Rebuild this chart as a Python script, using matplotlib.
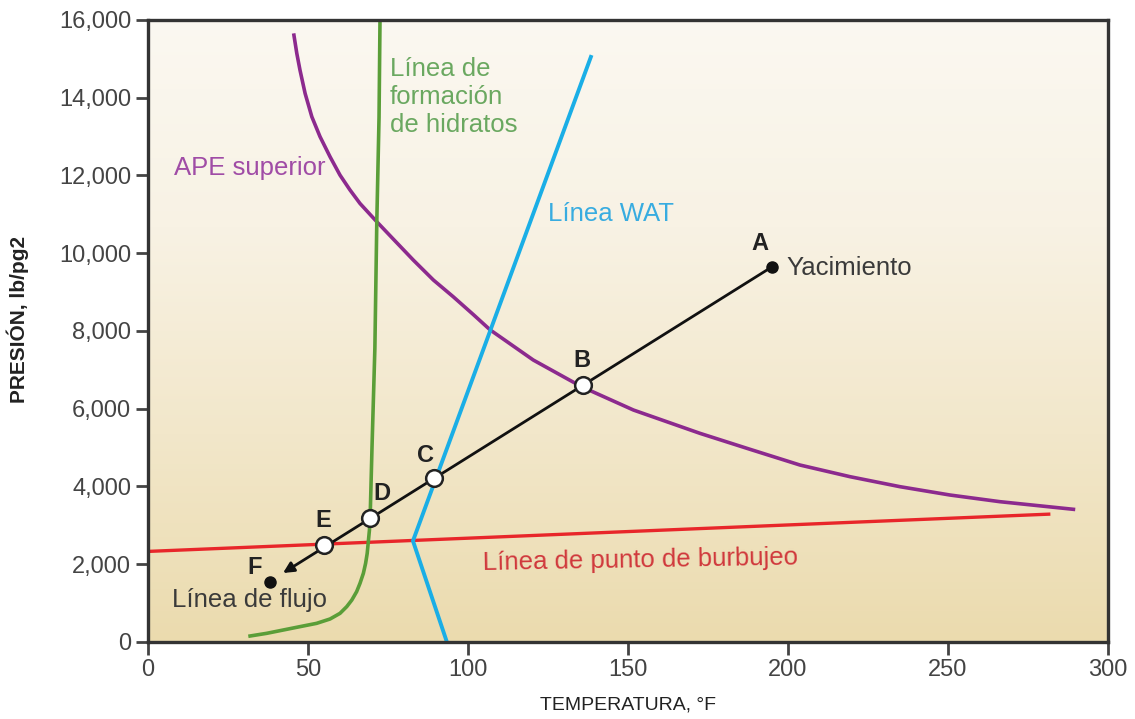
import numpy as np
import matplotlib
matplotlib.use("Agg")
import matplotlib.pyplot as plt
from matplotlib import font_manager as fm
from matplotlib.colors import LinearSegmentedColormap

# ---------------- data ----------------
ape_T = [45.6, 46.5, 47.5, 49.1, 51.2, 53.75, 56.9, 60, 63.1, 66.25, 71.5, 76.7, 82.9, 89.2,
         95.4, 101.7, 106.9, 120.4, 135.5, 151.7, 172.5, 188, 203.75, 219.4, 235, 250.6, 266.25, 289.2]
ape_P = [15610, 15140, 14710, 14110, 13510, 13000, 12480, 12010, 11630, 11280, 10810, 10360, 9825, 9310,
         8880, 8420, 8030, 7253, 6566, 5967, 5367, 4960, 4552, 4252, 3995, 3781, 3609, 3413]

hyd_T = [31.9, 37.1, 42.3, 47.5, 52.7, 56.9, 60, 62.1, 63.7, 65.2, 66.25, 67.3, 68.0, 68.5, 68.8,
         69.2, 69.4, 70.0, 70.9, 71.5, 72.2, 72.5]
hyd_P = [154, 223, 309, 395, 480, 592, 737, 909, 1080, 1295, 1509, 1766, 2023, 2280, 2538,
         2880, 3138, 5000, 7560, 10810, 13500, 16000]

wat_T = [138.4, 82.8, 93.4]
wat_P = [15050, 2600, 0]

bub_T = [0, 282]
bub_P = [2330, 3290]

flow_start = (195, 9650)     # A
flow_tip = (42.2, 1775)      # arrow tip
pts_labels = ["B", "C", "D", "E"]
pts_T = [136, 89.5, 69.5, 55]
pts_P = [6600, 4220, 3190, 2500]
A_pt = (195, 9650)
F_pt = (38, 1543)

xticks = [0, 50, 100, 150, 200, 250, 300]
yticks = [0, 2000, 4000, 6000, 8000, 10000, 12000, 14000, 16000]

# ---------------- fonts ----------------
names = {f.name for f in fm.fontManager.ttflist}
narrow = ["Liberation Sans Narrow", "Liberation Sans", "DejaVu Sans"] if "Liberation Sans Narrow" in names else ["Liberation Sans", "DejaVu Sans"]
plt.rcParams["font.family"] = ["Liberation Sans", "DejaVu Sans"]

fig = plt.figure(figsize=(11.35, 7.19), dpi=100)
ax = fig.add_axes([0.1304, 0.1071, 0.9762 - 0.1304, 0.9722 - 0.1071])

# background gradient (dark tan at bottom, pale cream at top)
grad = np.linspace(0, 1, 256).reshape(-1, 1)
cmap = LinearSegmentedColormap.from_list("bg", ["#ebdbae", "#f2e7ca", "#f8f2e4", "#fbf8f1"])
ax.imshow(grad, cmap=cmap, aspect="auto", extent=[0, 300, 0, 16000], zorder=0, origin="lower")
ax.set_xlim(0, 300)
ax.set_ylim(0, 16000)

# curves
ax.plot(bub_T, bub_P, color="#e8262a", lw=2.4, zorder=2, solid_capstyle="butt")
ax.plot(ape_T, ape_P, color="#8c2a8e", lw=2.6, zorder=2)
ax.plot(hyd_T, hyd_P, color="#5a9e38", lw=2.6, zorder=2)
ax.plot(wat_T, wat_P, color="#1aaee6", lw=2.8, zorder=2)

# flow line with arrow
ax.annotate("", xy=flow_tip, xytext=flow_start,
            arrowprops=dict(arrowstyle="-|>", color="#111111", lw=2.0,
                            mutation_scale=16, shrinkA=0, shrinkB=0), zorder=3)
ax.plot(pts_T, pts_P, "o", ms=12, mfc="white", mec="#222222", mew=1.8, zorder=4, ls="none")
ax.plot([A_pt[0], F_pt[0]], [A_pt[1], F_pt[1]], "o", ms=8, color="#111111", zorder=4, ls="none")

# labels
lab = dict(fontsize=17, fontweight="bold", color="#222222", ha="center", va="center", zorder=5)
ax.text(191.3, 10260, "A", **lab)
ax.text(135.6, 7253, "B", **lab)
ax.text(86.6, 4810, "C", **lab)
ax.text(73.1, 3830, "D", **lab)
ax.text(54.7, 3138, "E", **lab)
ax.text(33.4, 1929, "F", **lab)

fs = 18.5
ax.text(199.4, 9620, "Yacimiento", fontsize=fs, color="#3a3a3a", ha="left", va="center")
ax.text(7.5, 1080, "Línea de flujo", fontsize=fs, color="#3a3a3a", ha="left", va="center")
ax.text(8.0, 12190, "APE superior", fontsize=fs, color="#a04ca6", ha="left", va="center")
ax.text(125.0, 11010, "Línea WAT", fontsize=fs, color="#38ace0", ha="left", va="center")
ax.text(75.6, 15050, "Línea de\nformación\nde hidratos", fontsize=fs, color="#6aa860",
        ha="left", va="top", linespacing=1.2)
ax.text(104.7, 2110, "Línea de punto de burbujeo", fontsize=fs, color="#d0383c",
        ha="left", va="center", rotation=1.0)

# axes styling
for s in ax.spines.values():
    s.set_color("#333333")
    s.set_linewidth(2.4)
    s.set_zorder(6)

ax.set_xticks(xticks)
ax.set_yticks(yticks)
ax.set_xticklabels([str(v) for v in xticks], fontsize=17, color="#444444", family=narrow)
ax.set_yticklabels([f"{v:,}" for v in yticks], fontsize=17, color="#444444", family=narrow)
ax.tick_params(axis="both", direction="out", length=9, width=2, color="#444444")
ax.tick_params(axis="x", pad=3)
ax.tick_params(axis="y", pad=3)

ax.set_xlabel("TEMPERATURA, °F", fontsize=14, color="#222222", family=narrow)
ax.xaxis.set_label_coords(0.5, -0.088)
ax.set_ylabel("PRESIÓN, lb/pg2", fontsize=15, fontweight="bold", color="#222222")
ax.yaxis.set_label_coords(-0.124, 0.518)

fig.savefig("out.png", dpi=100, facecolor="white")
